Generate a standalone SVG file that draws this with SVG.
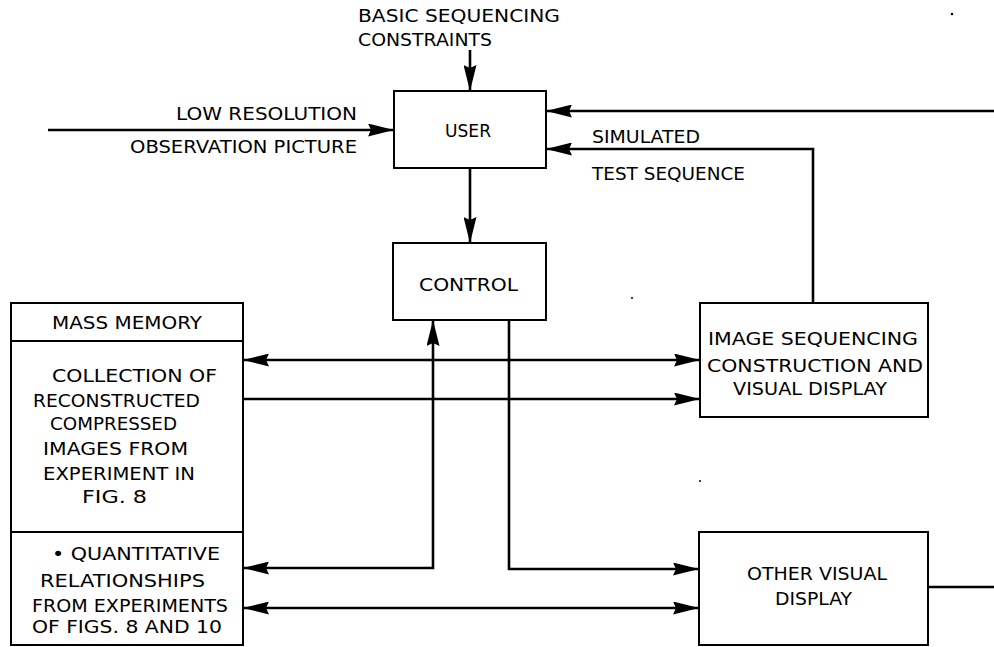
<svg xmlns="http://www.w3.org/2000/svg" width="994" height="647" viewBox="0 0 994 647">
  <style>
    .box { fill: #fff; stroke: #000; stroke-width: 2; }
    .div { stroke: #000; stroke-width: 2; }
    .wire { fill: none; stroke: #000; stroke-width: 2.6; }
    text { font-family: "DejaVu Sans", "Liberation Sans", sans-serif; font-size: 18px; fill: #000; }
  </style>
  <defs>
    <marker id="head" markerUnits="userSpaceOnUse" markerWidth="26" markerHeight="13" refX="26" refY="6.5" orient="auto-start-reverse">
      <path d="M0,0 L26,6.5 L0,13 L3,6.5 z" fill="#000"/>
    </marker>
  </defs>

  <rect width="994" height="647" fill="#fff"/>

  <!-- connectors -->
  <g id="connectors">
    <line class="wire" x1="470" y1="50" x2="470" y2="91" marker-end="url(#head)"/>
    <line class="wire" x1="48" y1="130" x2="394" y2="130" marker-end="url(#head)"/>
    <line class="wire" x1="994" y1="111" x2="546" y2="111" marker-end="url(#head)"/>
    <path class="wire" d="M813,303 V149 H546" marker-end="url(#head)"/>
    <line class="wire" x1="470" y1="168" x2="470" y2="243" marker-end="url(#head)"/>
    <line class="wire" x1="243" y1="360" x2="700" y2="360" marker-start="url(#head)" marker-end="url(#head)"/>
    <line class="wire" x1="243" y1="399" x2="700" y2="399" marker-end="url(#head)"/>
    <path class="wire" d="M433,320 V568 H243" marker-start="url(#head)" marker-end="url(#head)"/>
    <path class="wire" d="M509,320 V569 H699" marker-end="url(#head)"/>
    <line class="wire" x1="243" y1="608" x2="699" y2="608" marker-start="url(#head)" marker-end="url(#head)"/>
    <line class="wire" x1="928" y1="587" x2="994" y2="587"/>
  </g>

  <!-- free labels -->
  <g id="labels">
    <text x="358" y="22" textLength="202" lengthAdjust="spacingAndGlyphs">BASIC SEQUENCING</text>
    <text x="358" y="46" textLength="134" lengthAdjust="spacingAndGlyphs">CONSTRAINTS</text>
    <text x="176" y="120" textLength="181" lengthAdjust="spacingAndGlyphs">LOW RESOLUTION</text>
    <text x="130" y="153" textLength="227" lengthAdjust="spacingAndGlyphs">OBSERVATION PICTURE</text>
    <text x="592" y="143" textLength="108" lengthAdjust="spacingAndGlyphs">SIMULATED</text>
    <text x="592" y="180" textLength="153" lengthAdjust="spacingAndGlyphs">TEST SEQUENCE</text>
  </g>

  <g id="user">
    <rect class="box" x="394" y="91" width="152" height="77"/>
    <text x="445" y="137" textLength="46" lengthAdjust="spacingAndGlyphs">USER</text>
  </g>

  <g id="control">
    <rect class="box" x="393" y="243" width="153" height="77"/>
    <text x="419" y="291" textLength="99" lengthAdjust="spacingAndGlyphs">CONTROL</text>
  </g>

  <g id="mass-memory">
    <rect class="box" x="11" y="303" width="232" height="342"/>
    <line class="div" x1="11" y1="341" x2="243" y2="341"/>
    <line class="div" x1="11" y1="532" x2="243" y2="532"/>
    <text x="52" y="329" textLength="150" lengthAdjust="spacingAndGlyphs">MASS MEMORY</text>
    <text x="52" y="382" textLength="165" lengthAdjust="spacingAndGlyphs">COLLECTION OF</text>
    <text x="33" y="407" textLength="167" lengthAdjust="spacingAndGlyphs">RECONSTRUCTED</text>
    <text x="50" y="430" textLength="127" lengthAdjust="spacingAndGlyphs">COMPRESSED</text>
    <text x="43" y="455" textLength="145" lengthAdjust="spacingAndGlyphs">IMAGES FROM</text>
    <text x="43" y="480" textLength="152" lengthAdjust="spacingAndGlyphs">EXPERIMENT IN</text>
    <text x="82" y="503" textLength="65" lengthAdjust="spacingAndGlyphs">FIG. 8</text>
    <text x="52" y="560" textLength="168" lengthAdjust="spacingAndGlyphs">• QUANTITATIVE</text>
    <text x="40" y="587" textLength="165" lengthAdjust="spacingAndGlyphs">RELATIONSHIPS</text>
    <text x="32" y="612" textLength="196" lengthAdjust="spacingAndGlyphs">FROM EXPERIMENTS</text>
    <text x="32" y="633" textLength="190" lengthAdjust="spacingAndGlyphs">OF FIGS. 8 AND 10</text>
  </g>

  <g id="image-sequencing">
    <rect class="box" x="700" y="303" width="228" height="114"/>
    <text x="708" y="345" textLength="210" lengthAdjust="spacingAndGlyphs">IMAGE SEQUENCING</text>
    <text x="707" y="372" textLength="216" lengthAdjust="spacingAndGlyphs">CONSTRUCTION AND</text>
    <text x="733" y="395" textLength="154" lengthAdjust="spacingAndGlyphs">VISUAL DISPLAY</text>
  </g>

  <g id="other-display">
    <rect class="box" x="699" y="532" width="229" height="113"/>
    <text x="747" y="580" textLength="140" lengthAdjust="spacingAndGlyphs">OTHER VISUAL</text>
    <text x="775" y="605" textLength="77" lengthAdjust="spacingAndGlyphs">DISPLAY</text>
  </g>

  <!-- stray specks -->
  <g fill="#000">
    <circle cx="952" cy="14" r="1.2"/>
    <circle cx="632" cy="298" r="1"/>
    <circle cx="700" cy="481" r="1"/>
  </g>
</svg>
